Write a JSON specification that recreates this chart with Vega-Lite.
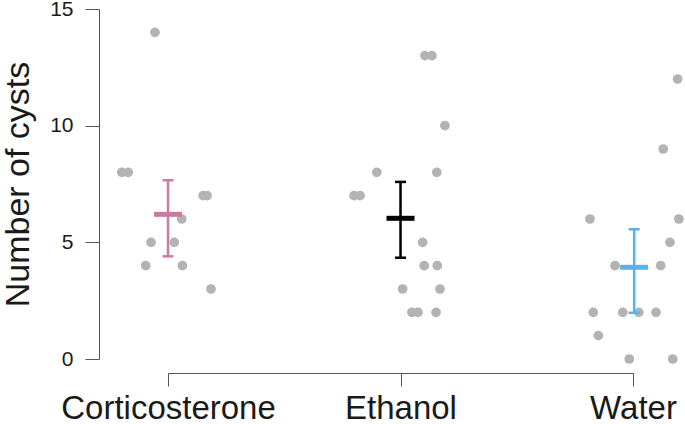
{
  "$schema": "https://vega.github.io/schema/vega-lite/v6.json",
  "width": 465,
  "height": 350,
  "autosize": {"type": "none"},
  "padding": {"left": 168, "top": 9, "right": 52, "bottom": 65},
  "background": "white",
  "config": {
    "view": {"stroke": null},
    "font": "Liberation Sans"
  },
  "datasets": {
    "points": [
      {"group": "Corticosterone", "x": 0.944, "cysts": 14},
      {"group": "Corticosterone", "x": 0.801, "cysts": 8},
      {"group": "Corticosterone", "x": 0.829, "cysts": 8},
      {"group": "Corticosterone", "x": 1.151, "cysts": 7},
      {"group": "Corticosterone", "x": 1.168, "cysts": 7},
      {"group": "Corticosterone", "x": 1.059, "cysts": 6},
      {"group": "Corticosterone", "x": 0.927, "cysts": 5},
      {"group": "Corticosterone", "x": 1.027, "cysts": 5},
      {"group": "Corticosterone", "x": 0.904, "cysts": 4},
      {"group": "Corticosterone", "x": 1.062, "cysts": 4},
      {"group": "Corticosterone", "x": 1.185, "cysts": 3},
      {"group": "Ethanol", "x": 2.105, "cysts": 13},
      {"group": "Ethanol", "x": 2.135, "cysts": 13},
      {"group": "Ethanol", "x": 2.191, "cysts": 10},
      {"group": "Ethanol", "x": 1.898, "cysts": 8},
      {"group": "Ethanol", "x": 2.156, "cysts": 8},
      {"group": "Ethanol", "x": 1.8, "cysts": 7},
      {"group": "Ethanol", "x": 1.826, "cysts": 7},
      {"group": "Ethanol", "x": 2.095, "cysts": 5},
      {"group": "Ethanol", "x": 2.102, "cysts": 4},
      {"group": "Ethanol", "x": 2.158, "cysts": 4},
      {"group": "Ethanol", "x": 2.009, "cysts": 3},
      {"group": "Ethanol", "x": 2.17, "cysts": 3},
      {"group": "Ethanol", "x": 2.049, "cysts": 2},
      {"group": "Ethanol", "x": 2.075, "cysts": 2},
      {"group": "Ethanol", "x": 2.153, "cysts": 2},
      {"group": "Water", "x": 3.192, "cysts": 12},
      {"group": "Water", "x": 3.13, "cysts": 9},
      {"group": "Water", "x": 2.815, "cysts": 6},
      {"group": "Water", "x": 3.197, "cysts": 6},
      {"group": "Water", "x": 3.159, "cysts": 5},
      {"group": "Water", "x": 2.923, "cysts": 4},
      {"group": "Water", "x": 3.119, "cysts": 4},
      {"group": "Water", "x": 2.829, "cysts": 2},
      {"group": "Water", "x": 2.956, "cysts": 2},
      {"group": "Water", "x": 3.025, "cysts": 2},
      {"group": "Water", "x": 3.099, "cysts": 2},
      {"group": "Water", "x": 2.851, "cysts": 1},
      {"group": "Water", "x": 2.984, "cysts": 0},
      {"group": "Water", "x": 3.171, "cysts": 0}
    ],
    "summary": [
      {"group": "Corticosterone", "x": 1.0, "mean": 6.2, "lower": 4.4, "upper": 7.66},
      {"group": "Ethanol", "x": 2.0, "mean": 6.03, "lower": 4.34, "upper": 7.59},
      {"group": "Water", "x": 3.005, "mean": 3.93, "lower": 1.98, "upper": 5.56}
    ]
  },
  "layer": [
    {
      "data": {"name": "points"},
      "mark": {"type": "circle", "size": 95, "opacity": 1, "color": "#b3b3b3"},
      "encoding": {
        "x": {
          "field": "x", "type": "quantitative",
          "scale": {"domain": [1, 3], "nice": false, "zero": false},
          "axis": {
            "values": [1, 2, 3],
            "labelExpr": "datum.value == 1 ? 'Corticosterone' : datum.value == 2 ? 'Ethanol' : 'Water'",
            "title": null, "grid": false, "offset": 14,
            "domainColor": "#555555", "tickColor": "#555555", "tickSize": 13,
            "labelFontSize": 33, "labelColor": "#1a1a1a", "labelPadding": 6,
            "labelFlush": false, "labelOverlap": false, "labelLimit": 0
          }
        },
        "y": {
          "field": "cysts", "type": "quantitative",
          "scale": {"domain": [0, 15], "nice": false, "zero": false},
          "axis": {
            "values": [0, 5, 10, 15],
            "title": "Number of cysts", "grid": false, "offset": 69,
            "domainColor": "#555555", "tickColor": "#555555", "tickSize": 14,
            "labelFontSize": 21, "labelColor": "#1a1a1a", "labelPadding": 12,
            "titleFontSize": 34, "titleFontWeight": "normal", "titleColor": "#1a1a1a",
            "titlePadding": 14
          }
        }
      }
    },
    {
      "data": {"name": "summary"},
      "mark": {"type": "rule", "strokeWidth": 2.5},
      "encoding": {
        "x": {"field": "x", "type": "quantitative"},
        "y": {"field": "lower", "type": "quantitative"},
        "y2": {"field": "upper"},
        "color": {
          "field": "group", "type": "nominal",
          "scale": {"domain": ["Corticosterone", "Ethanol", "Water"], "range": ["#CC79A7", "#000000", "#56B4E9"]},
          "legend": null
        }
      }
    },
    {
      "data": {"name": "summary"},
      "mark": {"type": "tick", "orient": "horizontal", "size": 11, "thickness": 2.5, "opacity": 1},
      "encoding": {
        "x": {"field": "x", "type": "quantitative"},
        "y": {"field": "lower", "type": "quantitative"},
        "color": {"field": "group", "type": "nominal", "legend": null}
      }
    },
    {
      "data": {"name": "summary"},
      "mark": {"type": "tick", "orient": "horizontal", "size": 11, "thickness": 2.5, "opacity": 1},
      "encoding": {
        "x": {"field": "x", "type": "quantitative"},
        "y": {"field": "upper", "type": "quantitative"},
        "color": {"field": "group", "type": "nominal", "legend": null}
      }
    },
    {
      "data": {"name": "summary"},
      "mark": {"type": "tick", "orient": "horizontal", "size": 28, "thickness": 5, "opacity": 1},
      "encoding": {
        "x": {"field": "x", "type": "quantitative"},
        "y": {"field": "mean", "type": "quantitative"},
        "color": {"field": "group", "type": "nominal", "legend": null}
      }
    }
  ]
}
